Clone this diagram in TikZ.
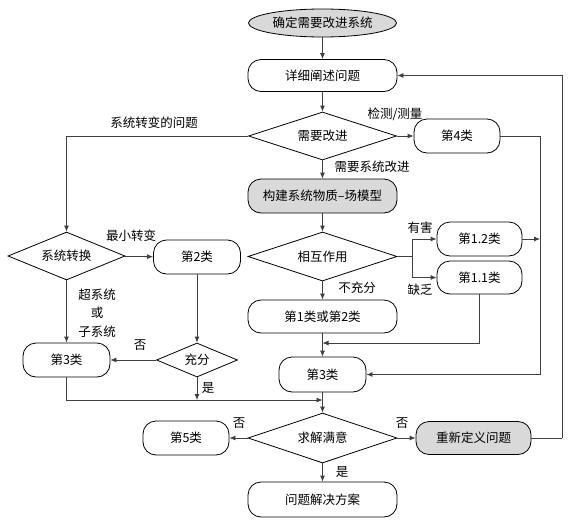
\documentclass[tikz,border=0pt]{standalone}
\usepackage{fontspec}
\setmainfont{Noto Sans CJK SC}
\usetikzlibrary{shapes.geometric,arrows.meta}
\begin{document}
\begin{tikzpicture}[x=1pt,y=-1pt, font=\fontsize{12.5}{14}\selectfont,
 box/.style={draw=black, rounded corners=13pt, minimum height=34pt, inner sep=0pt, line width=0.8pt},
 dia/.style={draw=black, diamond, inner sep=0pt, aspect=3, line width=0.8pt},
 arr/.style={-{Latex[length=6pt,width=5pt]}, line width=0.8pt, draw=black!75},
 ln/.style={line width=0.8pt, draw=black!75},
 lab/.style={inner sep=0pt},
 shade/.style={fill=gray!30}]
\useasboundingbox (0,0) rectangle (573,522);
% nodes
\node[ellipse, draw=black, line width=0.8pt, shade, minimum width=148pt, minimum height=28pt, inner sep=0pt] (start) at (322.5,23) {确定需要改进系统};
\node[box, minimum width=149pt, minimum height=32pt] (elab) at (322.5,75.5) {详细阐述问题};
\node[dia, minimum width=148pt, minimum height=48pt] (need) at (322.5,136) {需要改进};
\node[box, minimum width=86pt] (c4) at (457,136) {第4类};
\node[box, shade, minimum width=149pt] (build) at (322.5,196) {构建系统物质–场模型};
\node[dia, minimum width=149pt, minimum height=49pt] (inter) at (322.5,256.5) {相互作用};
\node[box, minimum width=85pt] (c12) at (479.5,239) {第1.2类};
\node[box, minimum width=85pt, minimum height=33pt] (c11) at (479.5,277.5) {第1.1类};
\node[box, minimum width=149pt, minimum height=33pt] (c1or2) at (322.5,316.5) {第1类或第2类};
\node[box, minimum width=87pt, minimum height=35pt] (c3m) at (322.5,374.5) {第3类};
\node[dia, minimum width=117pt, minimum height=48pt] (sys) at (66.5,256) {系统转换};
\node[box, minimum width=87pt] (c2) at (197,257) {第2类};
\node[dia, aspect=2.4, minimum width=81pt, minimum height=34pt] (suff) at (197,360) {充分};
\node[box, minimum width=87pt] (c3l) at (66.5,360) {第3类};
\node[dia, minimum width=149pt, minimum height=50pt] (solve) at (322.5,438) {求解满意};
\node[box, shade, minimum width=115pt, minimum height=33pt] (redef) at (473.5,438) {重新定义问题};
\node[box, minimum width=86pt] (c5) at (186,438) {第5类};
\node[box, minimum width=149pt, minimum height=35pt] (final) at (322.5,499.5) {问题解决方案};
% helper coordinates
\coordinate (rt) at (540,136);
\coordinate (rv) at (540,239);
\coordinate (br) at (412,256.5);
\coordinate (j1) at (322.5,343);
\coordinate (j2) at (197,400);
\coordinate (j3) at (322.5,400);
\coordinate (lp) at (562,438);
% connectors
\draw[arr] (start) -- (elab);
\draw[arr] (elab) -- (need);
\draw[arr] (need.west) -| (sys.north);
\draw[arr] (need) -- (c4);
\draw[ln] (c4.east) -- (rt);
\draw[arr] (rt) |- (c3m.east);
\draw[arr] (need) -- (build);
\draw[arr] (build) -- (inter);
\draw[ln] (inter.east) -- (br);
\draw[arr] (br) |- (c12.west);
\draw[arr] (br) |- (c11.west);
\draw[arr] (c12.east) -- (rv);
\draw[arr] (c11.south) |- (j1);
\draw[arr] (inter) -- (c1or2);
\draw[arr] (c1or2) -- (c3m);
\draw[arr] (sys) -- (c2);
\draw[arr] (sys) -- (c3l);
\draw[arr] (c2) -- (suff);
\draw[arr] (suff) -- (c3l);
\draw[arr] (suff) -- (j2);
\draw[arr] (c3l.south) |- (j3);
\draw[arr] (c3m) -- (solve);
\draw[arr] (solve) -- (redef);
\draw[arr] (solve) -- (c5);
\draw[arr] (solve) -- (final);
\draw[ln] (redef.east) -- (lp);
\draw[arr] (lp) |- (elab.east);
% labels
\node[lab] (l1) at (154,123) {系统转变的问题};
\node[lab] (l2) at (395,114) {检测/测量};
\node[lab] (l3) at (372,167) {需要系统改进};
\node[lab] (l4) at (131,236) {最小转变};
\node[lab] (l5) at (420,228) {有害};
\node[lab] (l6) at (420,290) {缺乏};
\node[lab] (l7) at (357,288) {不充分};
\node[lab, align=center, font=\fontsize{12.5}{18.5}\selectfont] (l8) at (97,313) {超系统\\或\\子系统};
\node[lab] (l9) at (140,345) {否};
\node[lab] (l10) at (208,388) {是};
\node[lab] (l11) at (239,423) {否};
\node[lab] (l12) at (402,423) {否};
\node[lab] (l13) at (342,472) {是};
\end{tikzpicture}
\end{document}
